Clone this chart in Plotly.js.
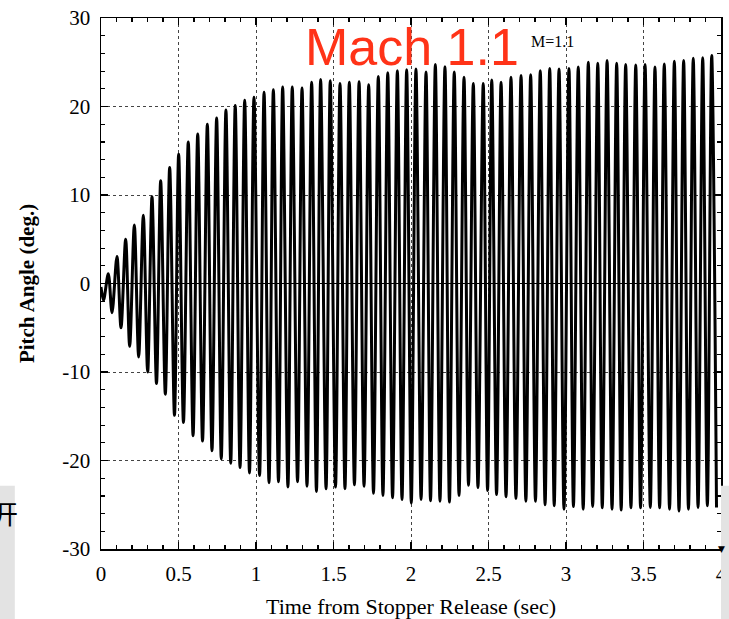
<!DOCTYPE html>
<html>
<head>
<meta charset="utf-8">
<script src="https://cdn.plot.ly/plotly-3.0.1.min.js"></script>
<style>
html,body{margin:0;padding:0;background:#fff;}
#chart{width:729px;height:619px;}
</style>
</head>
<body>
<div id="chart"></div>
<script>
// ---- data ----
const startTime = 0.0;
const startAngle = -0.4;

const peakTimes = [0.047,0.103,0.159,0.215,0.273,0.329,0.385,0.443,0.501,0.563,
  0.624,0.686,0.746,0.806,0.866,0.927,0.987,1.052,1.112,1.172,
  1.234,1.297,1.359,1.417,1.479,1.542,1.602,1.665,1.727,1.789,
  1.850,1.912,1.972,2.032,2.097,2.157,2.219,2.279,2.342,2.402,
  2.466,2.521,2.581,2.645,2.710,2.772,2.834,2.895,2.955,3.019,
  3.079,3.144,3.205,3.265,3.327,3.385,3.450,3.510,3.574,3.634,
  3.699,3.759,3.821,3.882,3.940];
const peakAngles = [1.1,3.05,5.0,6.6,7.7,9.8,11.6,13.1,14.6,16.0,
  16.9,18.0,18.7,19.6,20.1,20.7,21.05,21.6,21.9,22.2,
  22.2,22.1,22.75,23.05,22.9,22.6,22.75,22.8,22.45,23.4,
  23.8,24.05,24.15,24.25,23.9,24.75,24.5,23.9,23.3,22.6,
  22.6,23.0,22.75,23.3,23.5,23.6,24.05,24.3,24.25,24.3,
  24.45,25.0,24.9,25.2,24.9,24.75,24.7,24.75,24.45,24.8,
  25.1,25.2,25.45,25.5,25.75];

const troughTimes = [0.016,0.071,0.129,0.185,0.243,0.301,0.358,0.415,0.474,0.532,
  0.594,0.655,0.716,0.776,0.837,0.897,0.958,1.023,1.084,1.145,
  1.206,1.268,1.329,1.390,1.452,1.513,1.574,1.635,1.697,1.758,
  1.819,1.881,1.942,2.002,2.065,2.126,2.187,2.248,2.310,2.371,
  2.432,2.494,2.552,2.613,2.677,2.741,2.803,2.865,2.924,2.987,
  3.048,3.111,3.172,3.234,3.297,3.356,3.419,3.481,3.544,3.604,
  3.668,3.729,3.790,3.852,3.912,3.971];
const troughAngles = [-1.9,-3.3,-5.0,-7.1,-8.3,-10.0,-11.3,-12.5,-14.9,-15.7,
  -17.2,-17.8,-18.9,-19.8,-20.3,-20.8,-21.4,-21.7,-22.5,-22.4,
  -23.0,-22.4,-22.9,-23.5,-23.2,-23.0,-23.2,-22.75,-22.9,-23.7,
  -23.95,-24.2,-24.4,-24.8,-24.4,-24.55,-24.6,-24.7,-23.95,-22.8,
  -23.05,-23.4,-23.85,-24.1,-24.3,-24.6,-24.6,-25.0,-25.1,-25.5,
  -25.2,-25.5,-25.2,-25.35,-25.5,-25.6,-25.35,-25.35,-25.3,-25.35,
  -25.5,-25.7,-25.5,-25.3,-25.1,-25.3];

const xTickVals = [0,0.5,1,1.5,2,2.5,3,3.5,4];
const xTickText = ['0','0.5','1','1.5','2','2.5','3','3.5','4'];
const yTickVals = [-30,-20,-10,0,10,20,30];
const yTickText = ['-30','-20','-10','0','10','20','30'];

const xTitle = 'Time from Stopper Release (sec)';
const yTitle = 'Pitch Angle (deg.)';
const overlayLabel = 'Mach 1.1';
const innerLabel = 'M=1.1';
const sideChar = '开';

// ---- build the time series: start, then trough/peak alternation ----
const tSeries = [startTime];
const aSeries = [startAngle];
for (let i = 0; i < troughTimes.length; i++) {
  tSeries.push(troughTimes[i]); aSeries.push(troughAngles[i]);
  if (i < peakTimes.length) { tSeries.push(peakTimes[i]); aSeries.push(peakAngles[i]); }
}

const serif = 'Liberation Serif, Times New Roman, serif';

const trace = {
  x: tSeries, y: aSeries, type: 'scatter', mode: 'lines',
  line: {color: '#000', width: 3, shape: 'spline', smoothing: 0.9},
  hoverinfo: 'skip', showlegend: false
};

const axisCommon = {
  showline: true, linecolor: '#000', linewidth: 1.5, mirror: 'ticks',
  ticks: 'inside', ticklen: 7, tickwidth: 1.2, tickcolor: '#000',
  showgrid: true, gridcolor: '#444', gridwidth: 1, griddash: 'dot',
  tickfont: {family: serif, size: 21, color: '#000'},
  fixedrange: true
};

const layout = {
  width: 729, height: 619,
  margin: {l: 101, r: 8, t: 18, b: 70},
  paper_bgcolor: '#fff', plot_bgcolor: '#fff',
  showlegend: false,
  xaxis: Object.assign({}, axisCommon, {
    range: [0, 4], tickvals: xTickVals, ticktext: xTickText,
    zeroline: false, ticklabelstandoff: 5,
    minor: {dtick: 0.1, ticks: 'inside', ticklen: 4, tickcolor: '#000', showgrid: false},
    title: {text: xTitle, font: {family: serif, size: 22, color: '#000'}, standoff: 14}
  }),
  yaxis: Object.assign({}, axisCommon, {
    range: [-30, 30], tickvals: yTickVals, ticktext: yTickText,
    zeroline: true, zerolinecolor: '#000', zerolinewidth: 1.5,
    ticklabelstandoff: 5,
    minor: {dtick: 2, ticks: 'inside', ticklen: 4, tickcolor: '#000', showgrid: false},
    title: {text: '<b>' + yTitle + '</b>', font: {family: serif, size: 21, color: '#000'}, standoff: 22}
  }),
  shapes: [
    {type: 'rect', xref: 'paper', yref: 'paper', x0: -0.165, x1: -0.139, y0: -0.14, y1: 0.119,
     fillcolor: '#e3e3e3', line: {width: 0}, layer: 'above'},
    {type: 'rect', xref: 'paper', yref: 'paper', x0: 1.0, x1: 1.02, y0: -0.14, y1: 0.119,
     fillcolor: '#e3e3e3', line: {width: 0}, layer: 'above'}
  ],
  annotations: [
    {text: overlayLabel, xref: 'paper', yref: 'paper', x: 0.502, y: 0.945,
     xanchor: 'center', yanchor: 'middle', showarrow: false,
     font: {family: 'Liberation Sans, Arial, sans-serif', size: 52, color: '#ff3318'}},
    {text: innerLabel, xref: 'paper', yref: 'paper', x: 0.729, y: 0.955,
     xanchor: 'center', yanchor: 'middle', showarrow: false,
     font: {family: serif, size: 16, color: '#000'}},
    {text: sideChar, xref: 'paper', yref: 'paper', x: -0.155, y: 0.068,
     xanchor: 'center', yanchor: 'middle', showarrow: false,
     font: {family: 'Noto Sans CJK SC', size: 26, color: '#000'}},
    {text: '▼', xref: 'paper', yref: 'paper', x: 1.0, y: 0.0,
     xanchor: 'center', yanchor: 'middle', showarrow: false,
     font: {family: 'DejaVu Sans', size: 9, color: '#000'}}
  ]
};

Plotly.newPlot('chart', [trace], layout, {staticPlot: true, displayModeBar: false});
</script>
</body>
</html>
